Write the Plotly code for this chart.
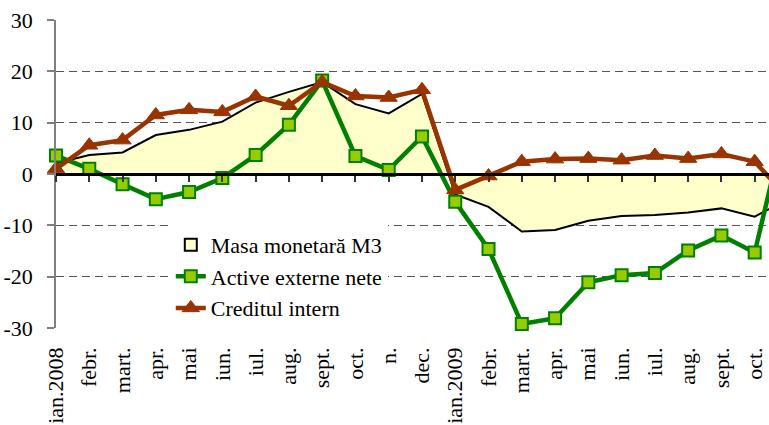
import plotly.graph_objects as go

# Category labels (last one lies beyond the visible edge in the reference)
categories = ["ian.2008", "febr.", "mart.", "apr.", "mai", "iun.", "iul.", "aug.",
              "sept.", "oct.", "n.", "dec.", "ian.2009", "febr.", "mart.", "apr.",
              "mai", "iun.", "iul.", "aug.", "sept.", "oct.", "nov."]

masa_monetara_m3 = [2.1, 3.7, 4.2, 7.6, 8.6, 10.2, 13.9, 16.0, 17.9, 13.6, 11.8, 15.6,
                    -4.0, -6.4, -11.2, -10.9, -9.1, -8.2, -8.0, -7.5, -6.7, -8.3, -4.9]
active_externe_nete = [3.6, 1.0, -2.0, -4.9, -3.5, -0.8, 3.7, 9.6, 18.2, 3.5, 0.8, 7.3,
                       -5.4, -14.6, -29.2, -28.1, -21.1, -19.7, -19.3, -14.9, -12.0, -15.3, 12.0]
creditul_intern = [1.0, 5.6, 6.6, 11.5, 12.5, 12.1, 15.1, 13.3, 17.9, 15.2, 14.9, 16.4,
                   -3.1, -0.4, 2.4, 2.9, 3.0, 2.7, 3.6, 3.0, 3.9, 2.4, -4.6]

y_tick_values = [-30, -20, -10, 0, 10, 20, 30]
y_tick_labels = ["-30", "-20", "-10", "0", "10", "20", "30"]

x = list(range(len(categories)))
visible = 22  # number of labelled categories visible

FONT = "Liberation Serif"

fig = go.Figure()

# legend-only stand-in giving the filled box symbol of the M3 area
fig.add_trace(go.Bar(
    x=[None], y=[None], name="Masa monetară M3",
    marker=dict(color="#FFFFCC", line=dict(color="black", width=2)),
    hoverinfo="skip",
))
fig.add_trace(go.Scatter(
    x=x, y=masa_monetara_m3, name="Masa monetară M3", mode="lines",
    fill="tozeroy", fillcolor="#FFFFCC", showlegend=False,
    line=dict(color="black", width=2),
))
fig.add_trace(go.Scatter(
    x=x, y=active_externe_nete, name="Active externe nete", mode="lines+markers",
    line=dict(color="#008000", width=4.5),
    marker=dict(symbol="square", size=12, color="#99CC00",
                line=dict(color="#008000", width=2)),
    cliponaxis=False,
))
fig.add_trace(go.Scatter(
    x=x, y=creditul_intern, name="Creditul intern", mode="lines+markers",
    line=dict(color="#993300", width=4.5),
    marker=dict(symbol="triangle-up", size=15, color="#993300",
                line=dict(color="#993300", width=1)),
    cliponaxis=False,
))
# invisible helper trace so the zero-crossing axis (x2) is drawn
fig.add_trace(go.Scatter(x=[x[0]], y=[None], xaxis="x2", showlegend=False,
                         hoverinfo="skip", mode="lines"))

xrange = [0, 21.43]

fig.update_layout(
    width=769, height=425,
    margin=dict(l=56, r=0, t=20, b=97),
    paper_bgcolor="white", plot_bgcolor="white",
    font=dict(family=FONT, size=22, color="black"),
    showlegend=True,
    barmode="overlay",
    legend=dict(x=0.161, y=0.338, xanchor="left", yanchor="top",
                bgcolor="white", borderwidth=0,
                font=dict(family=FONT, size=22, color="black"),
                tracegroupgap=0, itemwidth=30, traceorder="normal"),
    xaxis=dict(
        range=xrange, tickmode="array", automargin=False,
        tickvals=x[:visible], ticktext=categories[:visible],
        tickangle=-90, showgrid=False, zeroline=False, showline=False,
        ticks="", ticklabelstandoff=14,
        tickfont=dict(family=FONT, size=22, color="black"),
    ),
    xaxis2=dict(
        overlaying="x", anchor="free", position=0.5, side="bottom",
        range=xrange, tickmode="array", tickvals=x[:visible], automargin=False,
        showticklabels=False, showgrid=False, zeroline=False,
        showline=True, linecolor="black", linewidth=2.5,
        ticks="outside", ticklen=6, tickwidth=1.5, tickcolor="#333333",
    ),
    yaxis=dict(
        range=[-30, 30], tickmode="array", automargin=False,
        tickvals=y_tick_values, ticktext=y_tick_labels,
        showgrid=True, gridcolor="#555555", griddash="8px,5px", gridwidth=1.2,
        zeroline=False, showline=True, linecolor="#808080", linewidth=1.5,
        ticks="outside", ticklen=7, tickcolor="#808080", tickwidth=1.5,
        ticklabelstandoff=10,
        tickfont=dict(family=FONT, size=22, color="black"),
    ),
)

fig.write_html("out.html",
               config={"displayModeBar": False},
               post_script="document.body.style.margin='0';document.body.style.padding='0';")
